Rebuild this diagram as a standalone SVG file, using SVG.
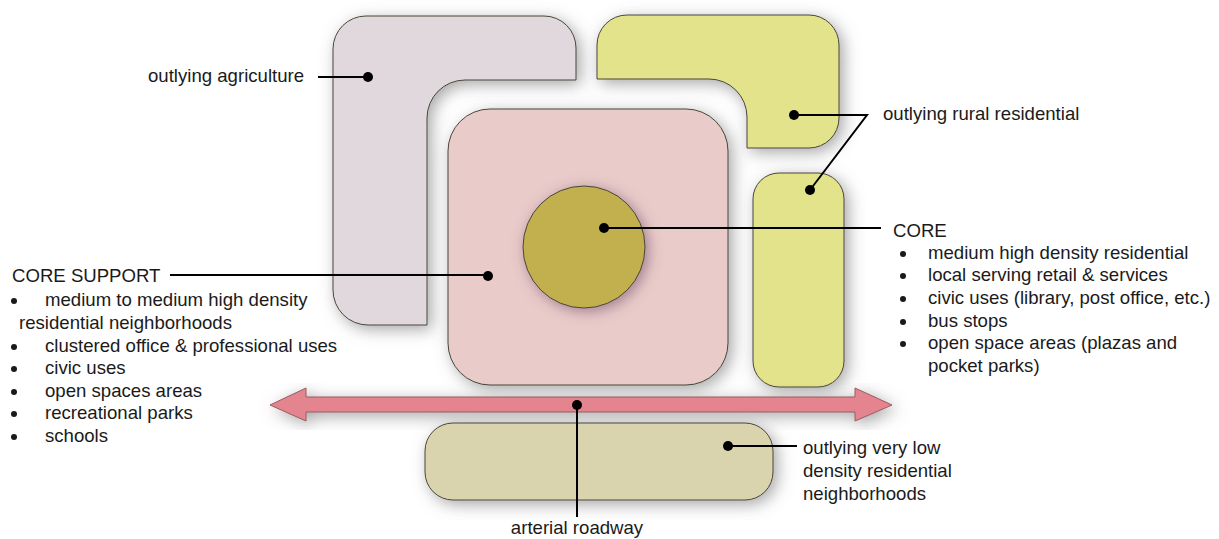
<svg xmlns="http://www.w3.org/2000/svg" width="1219" height="539" viewBox="0 0 1219 539">
<defs>
<filter id="sh" x="-25%" y="-25%" width="150%" height="150%">
<feGaussianBlur in="SourceAlpha" stdDeviation="8"/>
<feOffset dx="4" dy="4" result="b"/>
<feFlood flood-color="#6b6b6b" flood-opacity="0.6"/>
<feComposite in2="b" operator="in"/>
<feMerge><feMergeNode/><feMergeNode in="SourceGraphic"/></feMerge>
</filter>
<filter id="shc" x="-40%" y="-40%" width="180%" height="180%">
<feGaussianBlur in="SourceAlpha" stdDeviation="7"/>
<feOffset dx="3" dy="3" result="b"/>
<feFlood flood-color="#6e4a6a" flood-opacity="0.6"/>
<feComposite in2="b" operator="in"/>
<feMerge><feMergeNode/><feMergeNode in="SourceGraphic"/></feMerge>
</filter>
<style>
.shape{stroke:#4a4638;stroke-width:1}
.ln{stroke:#000;stroke-width:2;fill:none}
.dot{fill:#000}
.bul{fill:#1a1a1a}
text{font-family:"Liberation Sans",Arial,Helvetica,sans-serif;font-size:18.6px;fill:#1a1a1a}
</style>
</defs>
<rect width="1219" height="539" fill="#fff"/>

<g id="agriculture">
<path class="shape" filter="url(#sh)" fill="#e0d8dc" d="M366,16 H544 A32 32 0 0 1 576,48 V80 H465 A38 38 0 0 0 427,118 V325 H368 A35 35 0 0 1 333,290 V49 A33 33 0 0 1 366,16 Z"/>
</g>
<g id="rural">
<path class="shape" filter="url(#sh)" fill="#e2e38b" d="M627,15 H809 A30 30 0 0 1 839,45 V118 A30 30 0 0 1 809,148 H747 V117 A38 38 0 0 0 709,79 H597 V45 A30 30 0 0 1 627,15 Z"/>
<rect class="shape" filter="url(#sh)" fill="#e2e38b" x="753" y="173" width="91" height="214" rx="26"/>
</g>
<g id="core-support">
<rect class="shape" filter="url(#sh)" fill="#e9cbc9" x="448" y="109" width="280" height="276" rx="42"/>
</g>
<g id="core">
<circle class="shape" filter="url(#shc)" fill="#c2b04f" cx="584" cy="247" r="61"/>
</g>
<g id="roadway">
<path filter="url(#sh)" fill="#e4848f" stroke="#9a5a60" stroke-width="1" d="M270,405 L306,388 V397 H855 V388 L892,405 L855,421 V412 H306 V421 Z"/>
</g>
<g id="very-low">
<rect class="shape" filter="url(#sh)" fill="#d9d3ae" x="425" y="423" width="348" height="77" rx="28"/>
</g>

<g id="connectors">
<line class="ln" x1="318" y1="77" x2="368" y2="77"/><circle class="dot" cx="368" cy="77" r="5"/>
<polyline class="ln" points="794,115 867,115 810,190"/><circle class="dot" cx="794" cy="115" r="5"/><circle class="dot" cx="810" cy="190" r="5"/>
<line class="ln" x1="604" y1="228" x2="881" y2="228"/><circle class="dot" cx="604" cy="228" r="5"/>
<line class="ln" x1="170" y1="275" x2="488" y2="275"/><circle class="dot" cx="488" cy="276" r="5"/>
<line class="ln" x1="577" y1="405" x2="577" y2="517"/><circle class="dot" cx="577" cy="405" r="5"/>
<line class="ln" x1="728" y1="446" x2="797" y2="446"/><circle class="dot" cx="728" cy="446" r="5"/>
</g>

<g id="labels">
<text x="148" y="82">outlying agriculture</text>
<text x="883" y="120">outlying rural residential</text>
<text x="893" y="237">CORE</text>
<g>
<text x="928" y="259">medium high density residential</text>
<text x="928" y="281">local serving retail &amp; services</text>
<text x="928" y="304">civic uses (library, post office, etc.)</text>
<text x="928" y="327">bus stops</text>
<text x="928" y="349">open space areas (plazas and</text>
<text x="928" y="372">pocket parks)</text>
<circle class="bul" cx="903" cy="254" r="3"/>
<circle class="bul" cx="903" cy="276" r="3"/>
<circle class="bul" cx="903" cy="299" r="3"/>
<circle class="bul" cx="903" cy="322" r="3"/>
<circle class="bul" cx="903" cy="344" r="3"/>
</g>
<text x="12" y="282">CORE SUPPORT</text>
<g>
<text x="45" y="306">medium to medium high density</text>
<text x="19" y="329">residential neighborhoods</text>
<text x="45" y="352">clustered office &amp; professional uses</text>
<text x="45" y="374">civic uses</text>
<text x="45" y="397">open spaces areas</text>
<text x="45" y="419">recreational parks</text>
<text x="45" y="442">schools</text>
<circle class="bul" cx="14" cy="301" r="3"/>
<circle class="bul" cx="14" cy="347" r="3"/>
<circle class="bul" cx="14" cy="369" r="3"/>
<circle class="bul" cx="14" cy="392" r="3"/>
<circle class="bul" cx="14" cy="414" r="3"/>
<circle class="bul" cx="14" cy="437" r="3"/>
</g>
<text x="803" y="454">outlying very low</text>
<text x="803" y="477">density residential</text>
<text x="803" y="500">neighborhoods</text>
<text x="577" y="534" text-anchor="middle">arterial roadway</text>
</g>
</svg>
